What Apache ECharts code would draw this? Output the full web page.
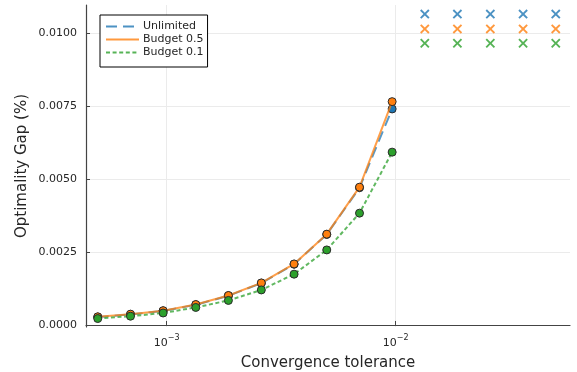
<!DOCTYPE html>
<html>
<head>
<meta charset="utf-8">
<script src="https://cdn.jsdelivr.net/npm/echarts@6/dist/echarts.min.js"></script>
<style>
  html, body { margin: 0; padding: 0; background: #fff; }
  #chart { width: 577px; height: 372px; }
</style>
</head>
<body>
<div id="chart"></div>
<script>
// Convergence tolerances (log-spaced) for the runs that converged
const tolerances = [5.0e-4, 6.95e-4, 9.65e-4, 1.34e-3, 1.86e-3, 2.59e-3, 3.60e-3, 5.0e-3, 6.95e-3, 9.65e-3];
// Larger tolerances where no gap is reported (drawn as crosses near the top)
const failTolerances = [1.34e-2, 1.86e-2, 2.59e-2, 3.60e-2, 5.0e-2];

// Optimality gap per budget setting
const gapUnlimited = [0.00027, 0.00036, 0.00048, 0.00069, 0.00100, 0.00143, 0.00208, 0.00310, 0.00470, 0.00740];
const gapBudget05  = [0.00028, 0.00037, 0.00049, 0.00070, 0.00101, 0.00144, 0.00209, 0.00311, 0.00472, 0.00765];
const gapBudget01  = [0.00022, 0.00030, 0.00041, 0.00060, 0.00084, 0.00120, 0.00174, 0.00257, 0.00383, 0.00592];

// Marker heights for the non-converged runs
const failUnlimited = [0.01065, 0.01065, 0.01065, 0.01065, 0.01065];
const failBudget05  = [0.01014, 0.01014, 0.01014, 0.01014, 0.01014];
const failBudget01  = [0.00965, 0.00965, 0.00965, 0.00965, 0.00965];

// Axis ticks
const xTickValues = [1e-3, 1e-2];
const yTickValues = [0, 0.0025, 0.005, 0.0075, 0.01];

const seriesNames = ['Unlimited', 'Budget 0.5', 'Budget 0.1'];
const colors = ['#1f77b4', '#ff7f0e', '#2ca02c'];
const dashes = [[11, 6], 'solid', [4, 2.6]];
const font = 'DejaVu Sans';
const textColor = '#262626';

const pairs = (xs, ys) => xs.map((x, i) => [x, ys[i]]);
const crossPath = 'path://M0,1.4 L1.4,0 L5,3.6 L8.6,0 L10,1.4 L6.4,5 L10,8.6 L8.6,10 L5,6.4 L1.4,10 L0,8.6 L3.6,5 Z';

const gaps = [gapUnlimited, gapBudget05, gapBudget01];
const fails = [failUnlimited, failBudget05, failBudget01];

const series = [];
gaps.forEach((g, i) => {
  series.push({
    name: seriesNames[i],
    type: 'line',
    data: pairs(tolerances, g),
    symbol: 'circle',
    symbolSize: 8,
    showAllSymbol: true,
    lineStyle: { color: colors[i], width: 2, type: dashes[i], cap: 'butt', opacity: 0.75 },
    itemStyle: { color: colors[i], borderColor: '#2a2a2a', borderWidth: 1 },
    emphasis: { disabled: true },
    z: 2 + i
  });
});
fails.forEach((f, i) => {
  series.push({
    name: seriesNames[i] + ' ×',
    type: 'scatter',
    data: pairs(failTolerances, f),
    symbol: crossPath,
    symbolSize: 9.5,
    itemStyle: { color: colors[i] },
    emphasis: { disabled: true },
    z: 2
  });
});

const chart = echarts.init(document.getElementById('chart'), null, { renderer: 'canvas' });
chart.setOption({
  animation: false,
  backgroundColor: '#fff',
  grid: { left: 86, right: 7, top: 5, bottom: 45, containLabel: false, outerBoundsMode: 'none' },
  legend: {
    left: 100,
    top: 15,
    orient: 'vertical',
    padding: [5, 4, 8, 5],
    itemGap: 0,
    itemWidth: 33,
    itemHeight: 10,
    backgroundColor: '#fff',
    borderColor: '#000',
    borderWidth: 1,
    borderRadius: 0,
    selectedMode: false,
    textStyle: { fontFamily: font, fontSize: 11, color: textColor, lineHeight: 13, padding: [0, 0, 0, -1] },
    data: seriesNames.map((n, i) => ({
      name: n,
      itemStyle: { opacity: 0 },
      lineStyle: { color: colors[i], width: 2, type: dashes[i], opacity: 0.8 }
    }))
  },
  xAxis: {
    type: 'log',
    min: 4.443e-4,
    max: 0.0577,
    name: 'Convergence tolerance',
    nameLocation: 'middle',
    nameGap: 29,
    nameMoveOverlap: false,
    nameTextStyle: { fontFamily: font, fontSize: 15, color: textColor },
    axisLine: { lineStyle: { color: '#444', width: 1.2 } },
    axisTick: { show: true, inside: true, length: 4, customValues: xTickValues, lineStyle: { color: '#444' } },
    axisLabel: {
      customValues: xTickValues,
      margin: 7,
      formatter: v => '{b|10}{s|−' + Math.round(-Math.log10(v)) + '}',
      rich: {
        b: { fontFamily: font, fontSize: 11, color: textColor, verticalAlign: 'bottom', lineHeight: 15 },
        s: { fontFamily: font, fontSize: 8, color: textColor, verticalAlign: 'top', lineHeight: 15 }
      }
    },
    splitLine: { show: true, lineStyle: { color: '#ebebeb', width: 1 } },
    minorTick: { show: false },
    minorSplitLine: { show: false }
  },
  yAxis: {
    type: 'value',
    min: -0.00007,
    max: 0.01096,
    name: 'Optimality Gap (%)',
    nameLocation: 'middle',
    nameGap: 56,
    nameMoveOverlap: false,
    nameTextStyle: { fontFamily: font, fontSize: 15, color: textColor },
    axisLine: { show: true, lineStyle: { color: '#444', width: 1.2 } },
    axisTick: { show: true, inside: true, length: 4, customValues: yTickValues, lineStyle: { color: '#444' } },
    axisLabel: {
      customValues: yTickValues,
      margin: 9,
      fontFamily: font,
      fontSize: 11,
      color: textColor,
      formatter: v => v.toFixed(4)
    },
    splitLine: { show: true, lineStyle: { color: '#ebebeb', width: 1 } }
  },
  series: series
});
</script>
</body>
</html>
